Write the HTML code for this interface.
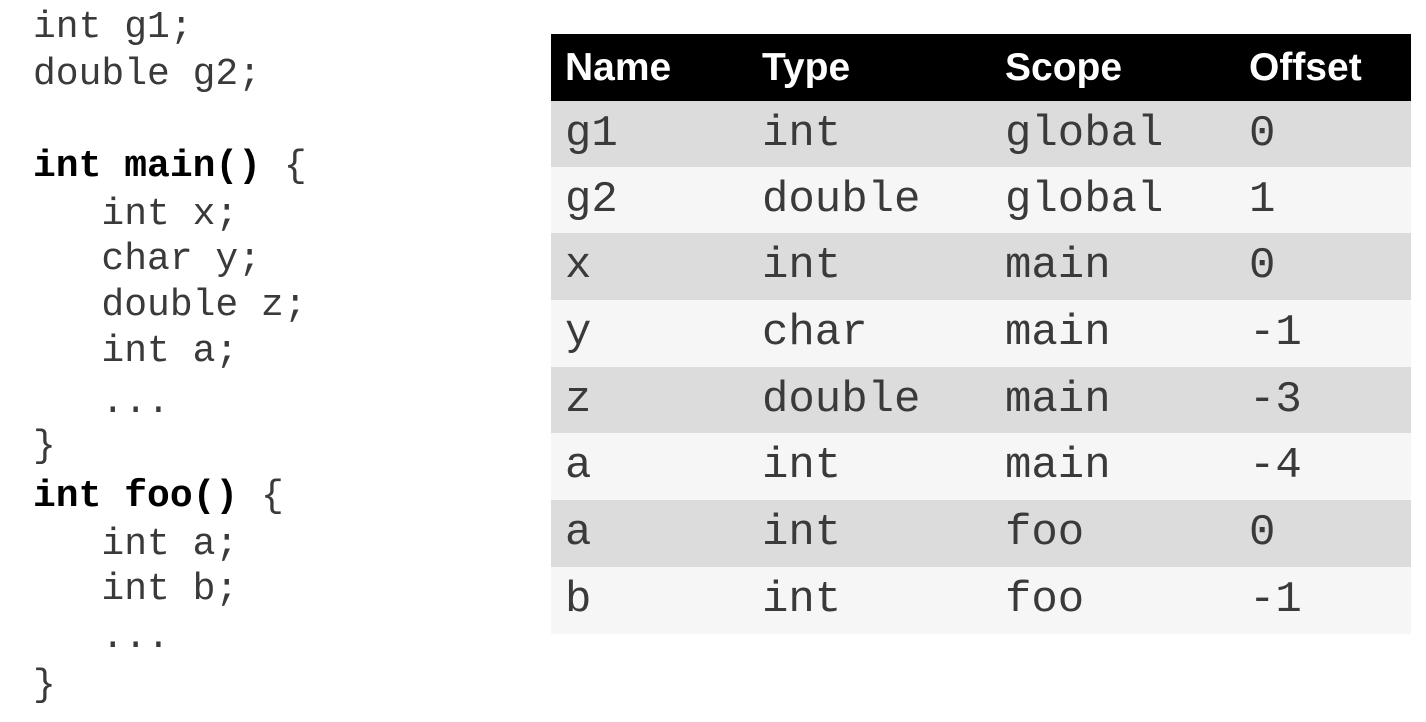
<!DOCTYPE html>
<html><head><style>
body{margin:0;width:1426px;height:722px;background:#fff;position:relative;overflow:hidden}
.c{position:absolute;left:33px;font-family:"Liberation Mono",monospace;font-size:38px;line-height:46px;color:#3a3a3a;white-space:pre}
.c b{font-weight:bold;color:#000}
.t{position:absolute;left:551px;width:860px;height:67px}
.t span{position:absolute;top:0;line-height:67px;font-family:"Liberation Mono",monospace;font-size:44px;color:#3a3a3a}
.h span{font-family:"Liberation Sans",sans-serif;font-weight:bold;font-size:39px;color:#fff}
</style></head><body>
<div class="c" style="top:5px">int g1;</div>
<div class="c" style="top:52px">double g2;</div>
<div class="c" style="top:144px"><b>int main()</b> {</div>
<div class="c" style="top:192px">   int x;</div>
<div class="c" style="top:237px">   char y;</div>
<div class="c" style="top:283px">   double z;</div>
<div class="c" style="top:329px">   int a;</div>
<div class="c" style="top:380px">   ...</div>
<div class="c" style="top:424px">}</div>
<div class="c" style="top:474px"><b>int foo()</b> {</div>
<div class="c" style="top:522px">   int a;</div>
<div class="c" style="top:567px">   int b;</div>
<div class="c" style="top:615px">   ...</div>
<div class="c" style="top:663px">}</div>

<div class="t h" style="top:34px;background:#000"><span style="left:14px">Name</span><span style="left:211px">Type</span><span style="left:454px">Scope</span><span style="left:698px">Offset</span></div>
<div class="t" style="top:101px;background:#dcdcdc"><span style="left:14px">g1</span><span style="left:211px">int</span><span style="left:454px">global</span><span style="left:698px">0</span></div>
<div class="t" style="top:167px;background:#f6f6f6"><span style="left:14px">g2</span><span style="left:211px">double</span><span style="left:454px">global</span><span style="left:698px">1</span></div>
<div class="t" style="top:233px;background:#dcdcdc"><span style="left:14px">x</span><span style="left:211px">int</span><span style="left:454px">main</span><span style="left:698px">0</span></div>
<div class="t" style="top:300px;background:#f6f6f6"><span style="left:14px">y</span><span style="left:211px">char</span><span style="left:454px">main</span><span style="left:698px">-1</span></div>
<div class="t" style="top:367px;background:#dcdcdc"><span style="left:14px">z</span><span style="left:211px">double</span><span style="left:454px">main</span><span style="left:698px">-3</span></div>
<div class="t" style="top:433px;background:#f6f6f6"><span style="left:14px">a</span><span style="left:211px">int</span><span style="left:454px">main</span><span style="left:698px">-4</span></div>
<div class="t" style="top:500px;background:#dcdcdc"><span style="left:14px">a</span><span style="left:211px">int</span><span style="left:454px">foo</span><span style="left:698px">0</span></div>
<div class="t" style="top:567px;background:#f6f6f6"><span style="left:14px">b</span><span style="left:211px">int</span><span style="left:454px">foo</span><span style="left:698px">-1</span></div>
</body></html>
